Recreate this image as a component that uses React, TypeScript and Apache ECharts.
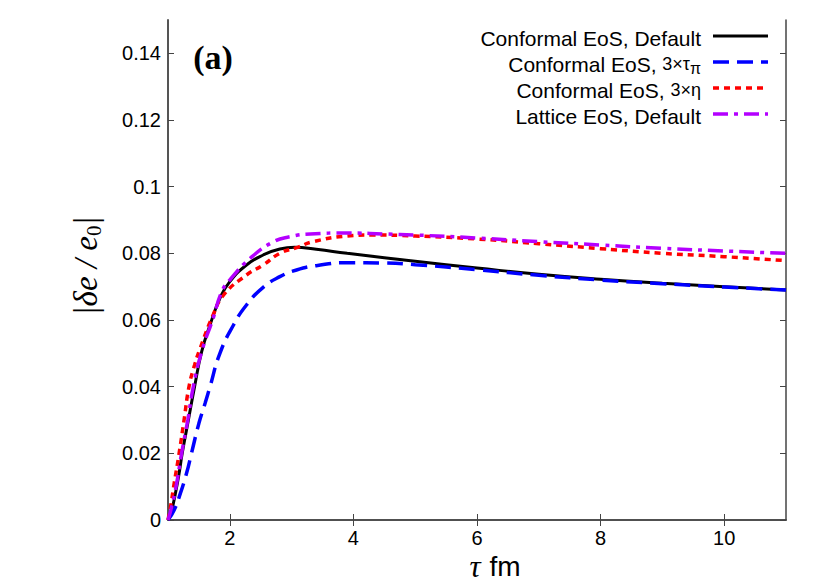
import React, { useEffect, useRef } from "react";
import * as echarts from "echarts";

const xTicks = [2, 4, 6, 8, 10];
const yTicks = [0, 0.02, 0.04, 0.06, 0.08, 0.1, 0.12, 0.14];

const confDefault: [number, number][] = [
  [1, 0], [1.06, 0.003], [1.12, 0.008], [1.18, 0.014], [1.23, 0.02], [1.33, 0.03],
  [1.43, 0.04], [1.545, 0.0505], [1.68, 0.0585], [1.84, 0.0665], [2.0, 0.0715], [2.27, 0.0765],
  [2.54, 0.0795], [2.81, 0.0813], [3.05, 0.0818], [3.4, 0.0812], [3.9, 0.08], [4.5, 0.0787],
  [5, 0.0776], [6, 0.0756], [7, 0.0737], [8, 0.0722], [9, 0.071], [10, 0.07], [11, 0.069],
];
const conf3TauPi: [number, number][] = [
  [1, 0], [1.1, 0.003], [1.2, 0.008], [1.3, 0.014], [1.38, 0.02], [1.5, 0.029], [1.6, 0.035],
  [1.68, 0.04], [1.84, 0.05], [2.06, 0.0585], [2.27, 0.0645], [2.54, 0.0698], [2.81, 0.073],
  [3.08, 0.075], [3.4, 0.0763], [3.9, 0.0772], [4.5, 0.0771], [5, 0.0766],
  [6, 0.0751], [7, 0.0734], [8, 0.072], [9, 0.0709], [10, 0.0699], [11, 0.069],
];
const conf3Eta: [number, number][] = [
  [1, 0], [1.05, 0.005], [1.1, 0.011], [1.18, 0.02], [1.26, 0.03], [1.34, 0.04], [1.43, 0.0465],
  [1.52, 0.0515], [1.73, 0.0615], [1.9, 0.0675], [2.27, 0.0735], [2.54, 0.0765], [2.81, 0.08],
  [3.08, 0.0817], [3.35, 0.0835], [3.9, 0.0852], [4.3, 0.0855], [5, 0.0852], [6, 0.0843],
  [7, 0.0829], [8, 0.0814], [9, 0.08], [10, 0.079], [11, 0.0778],
];
const latticeDefault: [number, number][] = [
  [1, 0], [1.06, 0.004], [1.13, 0.01], [1.22, 0.02], [1.32, 0.03], [1.41, 0.04], [1.545, 0.0505],
  [1.73, 0.0605], [1.87, 0.0685], [2.0, 0.072], [2.33, 0.0785], [2.71, 0.0835], [2.98, 0.085],
  [3.3, 0.0858], [3.9, 0.0861], [4.5, 0.0858], [5, 0.0855], [6, 0.0846],
  [7, 0.0835], [8, 0.0825], [9, 0.0815], [10, 0.0807], [11, 0.08],
];

const SANS = "'Liberation Sans', Arial, sans-serif";
const SERIF = "'Liberation Serif', 'DejaVu Serif', serif";

const seriesDefs = [
  { name: "Conformal EoS, Default", data: confDefault, color: "#000000", width: 3, dash: "solid" as any,
    label: "{m|Conformal EoS, Default}" },
  { name: "Conformal EoS, 3×τπ", data: conf3TauPi, color: "#0000ff", width: 3.5, dash: [16, 8],
    label: "{m|Conformal EoS, }{s|3×τ}{sub|π}" },
  { name: "Conformal EoS, 3×η", data: conf3Eta, color: "#ff0000", width: 3.5, dash: [6, 5],
    label: "{m|Conformal EoS, }{s|3×η}" },
  { name: "Lattice EoS, Default", data: latticeDefault, color: "#b400ff", width: 3.5, dash: [15, 6, 4, 6],
    label: "{m|Lattice EoS, Default}" },
];

export default function App() {
  const ref = useRef<HTMLDivElement>(null);
  useEffect(() => {
    if (!ref.current) return;
    const chart = echarts.init(ref.current, null, { renderer: "svg" });
    const axisLine = { show: true, lineStyle: { color: "#444", width: 1.5 } };
    const tick = { show: true, inside: true, length: 6, lineStyle: { color: "#444", width: 1 } };
    const legendRowsY = [36, 62, 88, 114];
    const rich = {
      m: { fontFamily: SANS, fontSize: 21, fill: "#000", lineHeight: 24, verticalAlign: "middle" },
      s: { fontFamily: SANS, fontSize: 18, fill: "#000", lineHeight: 24, verticalAlign: "middle" },
      sub: { fontFamily: SANS, fontSize: 16, fill: "#000", lineHeight: 14, verticalAlign: "bottom" },
    };
    const legendGraphics: any[] = [];
    seriesDefs.forEach((s, i) => {
      const y = legendRowsY[i];
      legendGraphics.push({
        type: "line",
        shape: { x1: 713, y1: y, x2: 768, y2: y },
        style: { stroke: s.color, lineWidth: s.width, lineDash: Array.isArray(s.dash) ? s.dash : null },
        silent: true,
      });
      legendGraphics.push({
        type: "text",
        x: 701,
        y: y + 2,
        style: { text: s.label, rich, align: "right", verticalAlign: "middle" },
        silent: true,
      });
    });
    chart.setOption({
      animation: false,
      backgroundColor: "#fff",
      grid: { left: 168, right: 44, top: 20, bottom: 67, containLabel: false },
      xAxis: [
        {
          type: "value", min: 1, max: 11, position: "bottom",
          axisLine, axisTick: { ...tick, customValues: xTicks },
          axisLabel: { customValues: xTicks, fontFamily: SANS, fontSize: 20, color: "#000", margin: 8 },
          splitLine: { show: false },
        },
        {
          type: "value", min: 1, max: 11, position: "top",
          axisLine, axisTick: { ...tick, customValues: xTicks },
          axisLabel: { show: false }, splitLine: { show: false },
        },
      ],
      yAxis: [
        {
          type: "value", min: 0, max: 0.15, position: "left",
          axisLine: { show: true, lineStyle: { color: "#555", width: 2 } },
          axisTick: { ...tick, customValues: yTicks },
          axisLabel: {
            customValues: yTicks, fontFamily: SANS, fontSize: 20, color: "#000", margin: 7,
            formatter: (v: number) => String(+Number(v).toFixed(2)),
          },
          splitLine: { show: false },
        },
        {
          type: "value", min: 0, max: 0.15, position: "right",
          axisLine, axisTick: { ...tick, customValues: yTicks },
          axisLabel: { show: false }, splitLine: { show: false },
        },
      ],
      series: seriesDefs.map((s) => ({
        type: "line",
        name: s.name,
        data: s.data,
        xAxisIndex: 0,
        yAxisIndex: 0,
        showSymbol: false,
        symbol: "none",
        smooth: 0.5,
        lineStyle: { color: s.color, width: s.width, type: s.dash, cap: "butt" },
        z: 10,
      })),
      graphic: [
        ...legendGraphics,
        {
          type: "text", x: 213, y: 57, silent: true,
          style: { text: "(a)", font: `bold 34px ${SERIF}`, fill: "#000", align: "center", verticalAlign: "middle" },
        },
        {
          type: "text", x: 86, y: 266, rotation: Math.PI / 2, silent: true,
          style: {
            text: "{a||δe / e}{b|0}{a||}",
            align: "center", verticalAlign: "middle",
            rich: {
              a: { fontFamily: SERIF, fontStyle: "italic", fontSize: 33, fill: "#000", lineHeight: 36, verticalAlign: "middle" },
              b: { fontFamily: SERIF, fontSize: 21, fill: "#000", lineHeight: 22, verticalAlign: "bottom" },
            },
          },
        },
        {
          type: "text", x: 495, y: 566, silent: true,
          style: {
            text: "{t|τ}{f|fm}",
            align: "center", verticalAlign: "middle",
            rich: {
              t: { fontFamily: SERIF, fontStyle: "italic", fontSize: 31, fill: "#000", lineHeight: 30, padding: [0, 9, 0, 0] },
              f: { fontFamily: SANS, fontSize: 28, fill: "#000", lineHeight: 30 },
            },
          },
        },
      ],
    });
    return () => chart.dispose();
  }, []);
  return (
    <div
      ref={ref}
      style={{ position: "fixed", left: 0, top: 0, width: 830, height: 587, background: "#fff" }}
    />
  );
}
